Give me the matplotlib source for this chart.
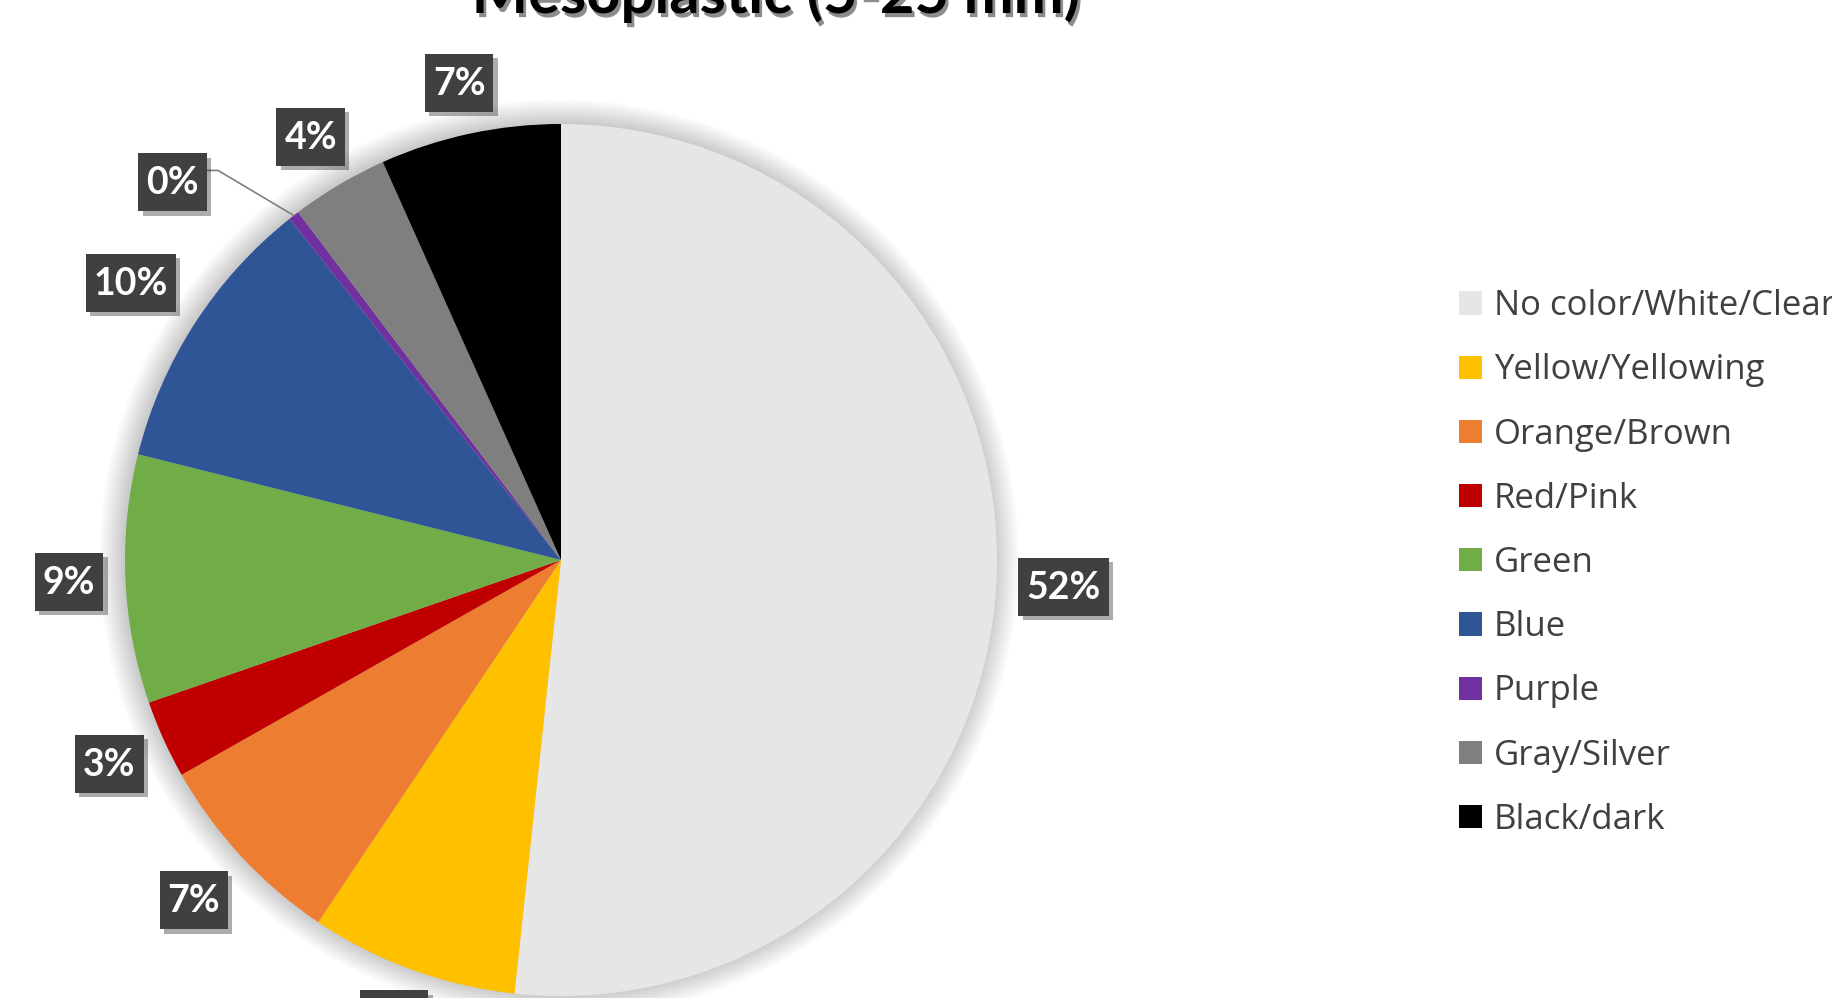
import matplotlib
matplotlib.use("Agg")
import matplotlib.pyplot as plt
import matplotlib.patheffects as pe
from matplotlib.patches import Circle, Rectangle
import numpy as np

# ── Data ─────────────────────────────────────────────────────────────────────
CATEGORIES = ["No color/White/Clear", "Yellow/Yellowing", "Orange/Brown",
              "Red/Pink", "Green", "Blue", "Purple", "Gray/Silver", "Black/dark"]
SHARES = [51.7, 7.7, 7.4, 2.9, 9.2, 10.4, 0.4, 3.6, 6.7]
COLORS = ["#E6E6E6", "#FFC000", "#ED7D31", "#C00000", "#70AD47",
          "#2F5597", "#7030A0", "#7F7F7F", "#000000"]
TITLE = "Mesoplastic (5-25 mm)"

W, H = 1833, 998
CX, CY, R = 561, 438, 436
TXT = "#404040"
GAP = 22

fig = plt.figure(figsize=(W / 100, H / 100), dpi=100, facecolor="white")
ax = fig.add_axes([0, 0, 1, 1])

# soft glow/shadow behind pie
for i in range(18):
    ax.add_patch(Circle((CX - 2, CY + 1), R + 1.4 * i, color="black",
                        alpha=0.011, lw=0, zorder=0))

wedges, _ = ax.pie(SHARES, colors=COLORS, startangle=90, counterclock=False,
                   center=(CX, CY), radius=R,
                   wedgeprops=dict(linewidth=0, zorder=2))
ax.set_xlim(0, W)
ax.set_ylim(0, H)
ax.set_aspect("equal")
ax.axis("off")

# ── Etiquetas de porcentaje ──────────────────────────────────────────────────
total = sum(SHARES)
labels = []
for w, v in zip(wedges, SHARES):
    t = ax.text(0, 0, f"{v / total * 100:.0f}%", fontsize=27,
                fontweight="bold", color="white", family="Lato",
                ha="center", va="center", zorder=7)
    labels.append(t)

fig.canvas.draw()
rend = fig.canvas.get_renderer()
shadow = [pe.SimplePatchShadow(offset=(3, -3), alpha=0.35), pe.Normal()]

for w, v, t in zip(wedges, SHARES, labels):
    bb = t.get_window_extent(rend)
    bw, bh = bb.width + 16, 58
    ang = (w.theta1 + w.theta2) / 2
    gap = GAP
    if v < 1:          # etiqueta desplazada con línea guía
        ang += 8
        gap = 64
    a = np.deg2rad(ang)
    c, s = np.cos(a), np.sin(a)
    d_edge = min(bw / 2 / max(abs(c), 1e-6), bh / 2 / max(abs(s), 1e-6))
    dist = R + gap + d_edge
    lx, ly = CX + dist * c, CY + dist * s
    t.set_position((lx, ly - 1))
    rect = Rectangle((lx - bw / 2, ly - bh / 2), bw, bh, fc="#404040",
                     ec="none", zorder=6)
    rect.set_path_effects(shadow)
    ax.add_patch(rect)
    if v < 1:
        m = np.deg2rad((w.theta1 + w.theta2) / 2)
        ex, ey = CX + R * np.cos(m), CY + R * np.sin(m)
        ax.plot([lx + bw / 2, lx + bw / 2 + 11, ex],
                [ly + 12, ly + 12, ey], color="#7F7F7F", lw=1.2, zorder=5)

# ── Título (recortado arriba, como en el original) ───────────────────────────
ax.text(776, H - 13, TITLE, ha="center", va="baseline", fontsize=43,
        fontweight="bold", family="Lato", color="black",
        path_effects=[pe.SimplePatchShadow(offset=(2, -3), alpha=0.45),
                      pe.Normal()])

# ── Leyenda ──────────────────────────────────────────────────────────────────
leg = ax.legend(wedges, CATEGORIES, loc="center left",
                bbox_to_anchor=(1459 / W, (H - 563) / H),
                frameon=False, borderpad=0, borderaxespad=0,
                handlelength=0.65, handleheight=0.65, handletextpad=0.35,
                labelspacing=0.87, prop=dict(family="Open Sans", size=25))
for t in leg.get_texts():
    t.set_color(TXT)

plt.savefig("out.png", dpi=100, facecolor="white")
